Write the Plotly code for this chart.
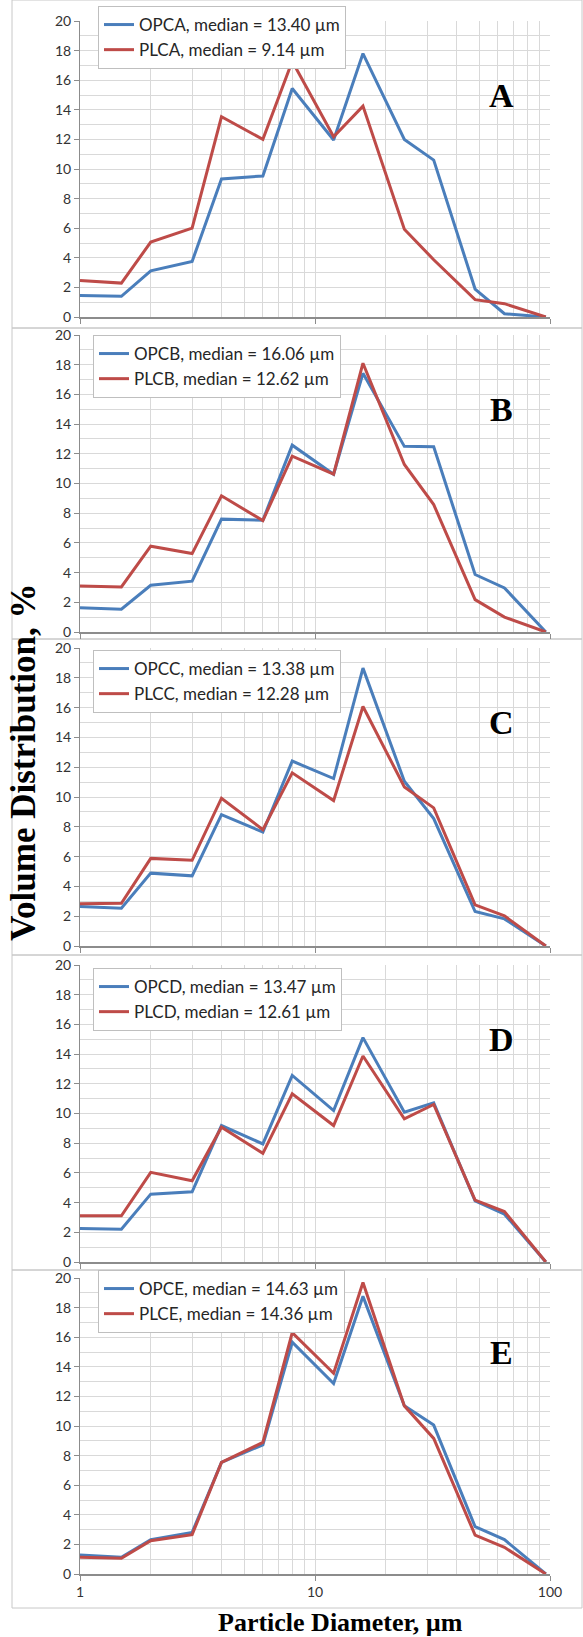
import math
import plotly.graph_objects as go

W, H = 583, 1637
L, R = 80, 33
PW = W - L - R

# ---------------- data ----------------
diameter = [1, 1.5, 2, 3, 4, 6, 8, 12, 16, 24, 32, 48, 64, 96]

opca = [1.45, 1.40, 3.12, 3.75, 9.33, 9.53, 15.44, 11.96, 17.8, 12.0, 10.6, 1.89, 0.22, 0.0]
plca = [2.47, 2.29, 5.06, 6.0, 13.53, 12.0, 17.28, 12.18, 14.25, 5.93, 3.87, 1.17, 0.9, 0.0]

opcb = [1.64, 1.53, 3.15, 3.42, 7.6, 7.53, 12.58, 10.62, 17.42, 12.5, 12.47, 3.87, 2.97, 0.0]
plcb = [3.1, 3.03, 5.78, 5.28, 9.17, 7.5, 11.84, 10.63, 18.1, 11.28, 8.58, 2.18, 1.0, 0.0]

opcc = [2.65, 2.54, 4.89, 4.71, 8.82, 7.65, 12.41, 11.24, 18.65, 11.06, 8.55, 2.31, 1.82, 0.0]
plcc = [2.83, 2.87, 5.88, 5.75, 9.92, 7.81, 11.62, 9.76, 16.07, 10.68, 9.27, 2.76, 2.02, 0.0]

opcd = [2.25, 2.2, 4.57, 4.73, 9.19, 7.95, 12.57, 10.2, 15.11, 10.09, 10.72, 4.12, 3.22, 0.0]
plcd = [3.11, 3.11, 6.04, 5.47, 9.08, 7.32, 11.33, 9.19, 13.87, 9.64, 10.61, 4.17, 3.4, 0.0]

opce = [1.28, 1.13, 2.32, 2.81, 7.54, 8.73, 15.66, 12.87, 18.76, 11.36, 10.06, 3.2, 2.32, 0.0]
plce = [1.13, 1.06, 2.25, 2.66, 7.54, 8.89, 16.31, 13.56, 19.7, 11.36, 9.16, 2.63, 1.8, 0.0]

panel_letters = ["A", "B", "C", "D", "E"]
opc_labels = ["OPCA, median = 13.40 µm", "OPCB, median = 16.06 µm", "OPCC, median = 13.38 µm",
              "OPCD, median = 13.47 µm", "OPCE, median = 14.63 µm"]
plc_labels = ["PLCA, median = 9.14 µm", "PLCB, median = 12.62 µm", "PLCC, median = 12.28 µm",
              "PLCD, median = 12.61 µm", "PLCE, median = 14.36 µm"]
opc_series = [opca, opcb, opcc, opcd, opce]
plc_series = [plca, plcb, plcc, plcd, plce]

y_ticks = [0, 2, 4, 6, 8, 10, 12, 14, 16, 18, 20]
x_ticks = [1, 10, 100]
x_tick_text = ["1", "10", "100"]
x_minor = [2, 3, 4, 5, 6, 7, 8, 9, 20, 30, 40, 50, 60, 70, 80, 90]

# ---------------- layout geometry (pixels) ----------------
domains_px = [(21, 317), (335, 632), (648, 946), (965, 1262), (1278, 1574)]
legend_top_px = [6, 335, 650, 968, 1270]
legend_left_px = [98, 93, 93, 93, 98]
box_px = [(0, 328), (328, 639), (639, 955), (955, 1270), (1270, 1608)]

BLUE = "#4A7EBB"
RED = "#BE4B48"
GRID = "#D9D9D9"
AXIS = "#8C8C8C"
TICKFONT = dict(family="Lato, Open Sans, sans-serif", size=14, color="#333333")

fig = go.Figure()
layout = dict(
    width=W, height=H,
    margin=dict(l=L, r=R, t=0, b=0, autoexpand=False),
    paper_bgcolor="white", plot_bgcolor="white",
    showlegend=True,
)

shapes = []
annotations = []

for i in range(5):
    n = i + 1
    xa = "x" if n == 1 else f"x{n}"
    ya = "y" if n == 1 else f"y{n}"
    lg = "legend" if n == 1 else f"legend{n}"
    top, bot = domains_px[i]

    fig.add_trace(go.Scatter(x=diameter, y=opc_series[i], mode="lines", name=opc_labels[i],
                             line=dict(color=BLUE, width=3), xaxis=xa, yaxis=ya, legend=lg))
    fig.add_trace(go.Scatter(x=diameter, y=plc_series[i], mode="lines", name=plc_labels[i],
                             line=dict(color=RED, width=3), xaxis=xa, yaxis=ya, legend=lg))

    layout[f"xaxis{'' if n == 1 else n}"] = dict(
        type="log", range=[0, 2], domain=[0, 1], anchor=ya,
        tickvals=x_ticks, ticktext=x_tick_text,
        showticklabels=(n == 5), tickfont=TICKFONT,
        ticks="outside", ticklen=5, tickcolor=AXIS,
        showgrid=True, gridcolor=GRID, gridwidth=1,
        minor=dict(tickvals=x_minor, showgrid=True, gridcolor=GRID, gridwidth=1, ticks=""),
        showline=True, linecolor=AXIS, linewidth=1.5, zeroline=False,
        fixedrange=True,
    )
    layout[f"yaxis{'' if n == 1 else n}"] = dict(
        range=[0, 20], domain=[1 - bot / H, 1 - top / H], anchor=xa,
        tickvals=y_ticks, tickfont=TICKFONT,
        ticks="outside", ticklen=5, tickcolor=AXIS,
        showgrid=True, gridcolor=GRID, gridwidth=1,
        minor=dict(dtick=1, showgrid=True, gridcolor=GRID, gridwidth=1, ticks=""),
        showline=True, linecolor=AXIS, linewidth=1, zeroline=False,
        fixedrange=True,
    )
    layout[lg] = dict(
        x=(legend_left_px[i] - L) / PW, y=1 - legend_top_px[i] / H,
        xanchor="left", yanchor="top",
        bgcolor="white", bordercolor="#BFBFBF", borderwidth=1,
        font=dict(family="Lato, Open Sans, sans-serif", size=17, color="#262626"),
        tracegroupgap=0, itemwidth=30,
    )
    annotations.append(dict(
        text=f"<b>{panel_letters[i]}</b>", xref=xa, yref=ya, x=math.log10(62), y=15,
        showarrow=False, font=dict(family="Liberation Serif, Times New Roman, serif", size=34, color="black"),
    ))
    b0, b1 = box_px[i]
    shapes.append(dict(type="rect", xref="paper", yref="paper",
                       x0=(12 - L) / PW, x1=(582 - L) / PW,
                       y0=1 - b1 / H, y1=1 - b0 / H,
                       line=dict(color="#C8C8C8", width=1), layer="below"))

annotations.append(dict(
    text="<b>Volume Distribution, %</b>", xref="paper", yref="paper",
    x=(23 - L) / PW, y=1 - 762 / H, xanchor="center", yanchor="middle",
    textangle=-90, showarrow=False,
    font=dict(family="Liberation Serif, Times New Roman, serif", size=35, color="black"),
))
annotations.append(dict(
    text="<b>Particle Diameter, µm</b>", xref="paper", yref="paper",
    x=(340 - L) / PW, y=1 - 1622 / H, xanchor="center", yanchor="middle",
    showarrow=False,
    font=dict(family="Liberation Serif, Times New Roman, serif", size=26, color="black"),
))

layout["shapes"] = shapes
layout["annotations"] = annotations
fig.update_layout(**layout)
fig.write_html(
    "out.html",
    config={"displayModeBar": False, "staticPlot": True},
    post_script="document.body.style.margin='0px';document.body.style.overflow='hidden';",
)
